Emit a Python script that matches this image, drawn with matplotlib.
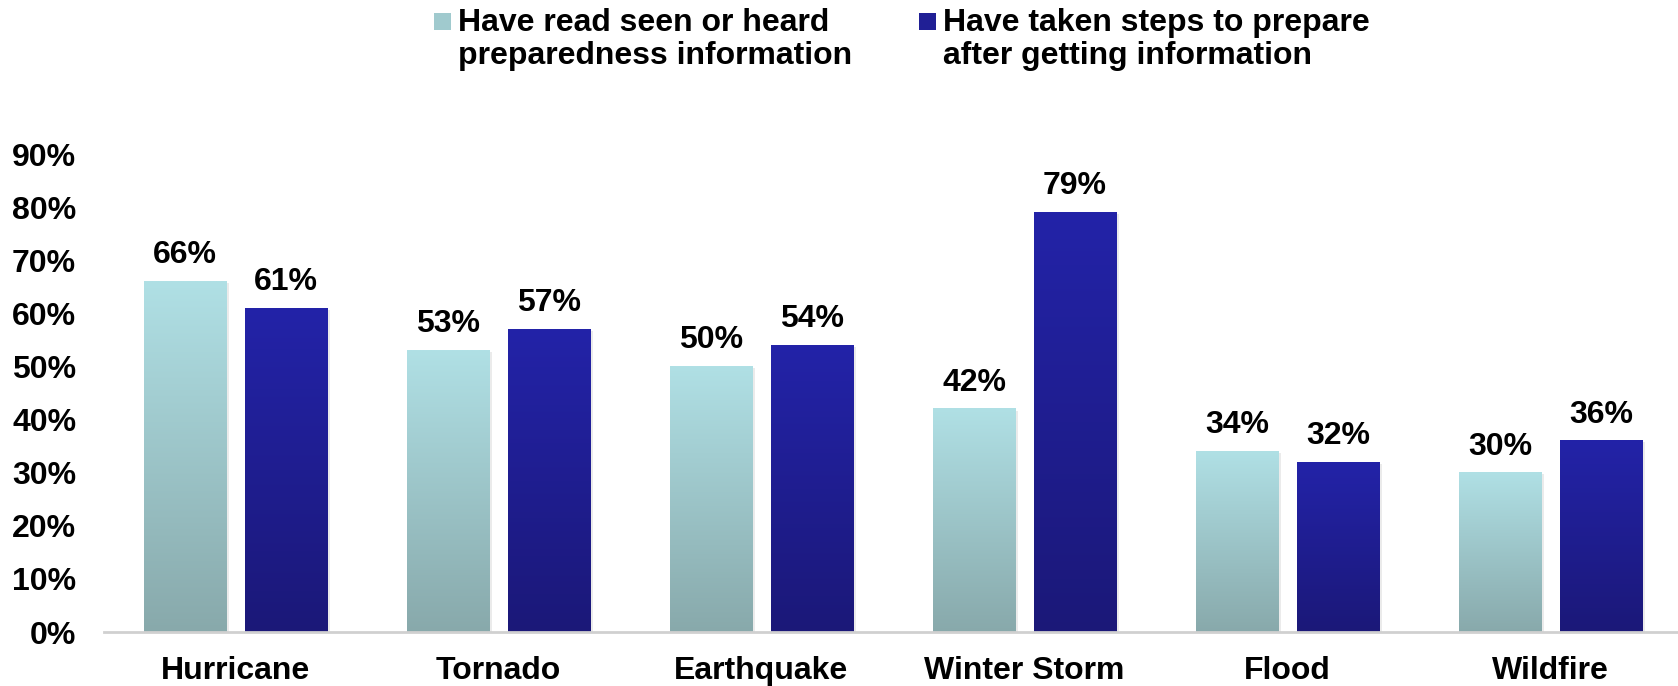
import numpy as np
import matplotlib.pyplot as plt
from matplotlib.colors import LinearSegmentedColormap
from matplotlib.patches import Rectangle

categories = ['Hurricane', 'Tornado', 'Earthquake', 'Winter Storm', 'Flood', 'Wildfire']
read_info = [66, 53, 50, 42, 34, 30]
took_steps = [61, 57, 54, 79, 32, 36]
legend_labels = ['Have read seen or heard\npreparedness information',
                 'Have taken steps to prepare\nafter getting information']
yticks = [0, 10, 20, 30, 40, 50, 60, 70, 80, 90]

plt.rcParams['font.family'] = ['Liberation Sans', 'DejaVu Sans']
plt.rcParams['font.weight'] = 'bold'

W, H = 1678, 686
fig = plt.figure(figsize=(W / 100, H / 100), dpi=100)
ax = fig.add_axes([104 / W, 54 / H, 1578 / W, 478 / H])

light_cmap = LinearSegmentedColormap.from_list('light', ['#88a9ab', '#b0e0e5'])
dark_cmap = LinearSegmentedColormap.from_list('dark', ['#1b1878', '#2323a8'])

x = np.arange(len(categories))
bw = 0.312
off = 0.192
grad = np.linspace(0, 1, 256).reshape(-1, 1)

for vals, sign, cmap in [(read_info, -1, light_cmap), (took_steps, 1, dark_cmap)]:
    bars = ax.bar(x + sign * off, vals, bw, color='none', edgecolor='none', zorder=3)
    for b, v in zip(bars, vals):
        bx, by, bwid, bh = b.get_x(), b.get_y(), b.get_width(), b.get_height()
        # soft shadow
        ax.add_patch(Rectangle((bx + 0.012, by - 0.3), bwid, bh, facecolor='#000000',
                               alpha=0.08, edgecolor='none', zorder=2))
        ax.imshow(grad, extent=[bx, bx + bwid, by, by + bh], origin='lower',
                  aspect='auto', cmap=cmap, zorder=3)
        ax.annotate(f'{v}%', (bx + bwid / 2, bh), xytext=(0, 13), textcoords='offset points',
                    ha='center', va='baseline', fontsize=23, fontweight='bold')

ax.set_xlim(-0.5, len(categories) - 0.5)
ax.set_ylim(0, 90)
ax.set_xticks(x)
ax.set_xticklabels(categories, fontsize=23, fontweight='bold')
ax.set_yticks(yticks)
ax.set_yticklabels([f'{t}%' for t in yticks], fontsize=23, fontweight='bold')
ax.tick_params(axis='x', length=0, pad=17)
ax.tick_params(axis='y', length=0, pad=20)
for s in ['top', 'right', 'left']:
    ax.spines[s].set_visible(False)
ax.spines['bottom'].set_color('#d0d0d0')
ax.spines['bottom'].set_linewidth(2)
ax.spines['bottom'].set_zorder(4)

# legend drawn by hand so the swatch sits beside the first line
sw_x = [434, 919]
tx_x = [458, 943]
sw_colors = [light_cmap, dark_cmap]
for i, lab in enumerate(legend_labels):
    fig.add_artist(Rectangle((sw_x[i] / W, 1 - 30 / H), 17 / W, 17 / H,
                             facecolor=sw_colors[i](0.6), edgecolor='none',
                             transform=fig.transFigure))
    for j, line in enumerate(lab.split('\n')):
        fig.text(tx_x[i] / W, 1 - (31 + j * 33) / H, line, fontsize=23,
                 fontweight='bold', ha='left', va='baseline')

fig.savefig('out.png', dpi=100)
